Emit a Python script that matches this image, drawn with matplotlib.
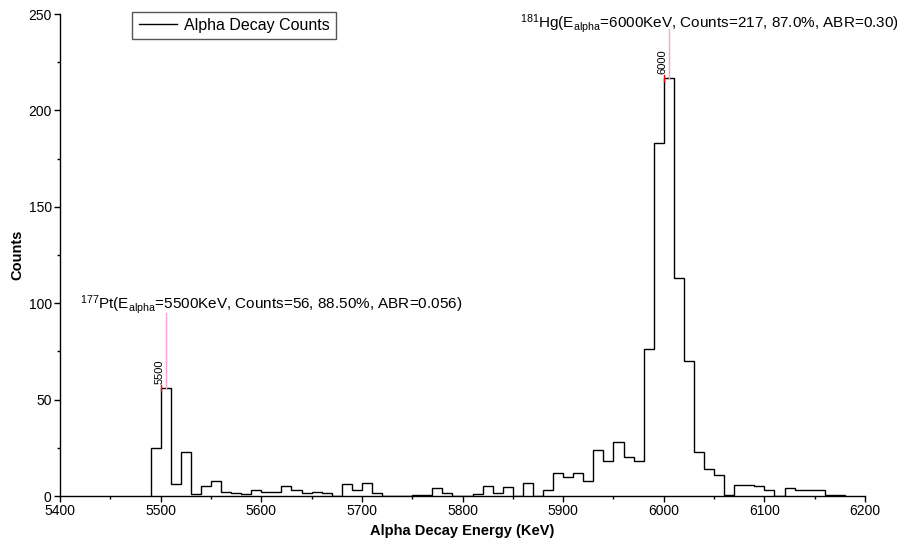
import numpy as np
import matplotlib.pyplot as plt
from matplotlib.ticker import MultipleLocator

plt.rcParams['font.family'] = ['Liberation Sans', 'DejaVu Sans']
plt.rcParams['mathtext.fontset'] = 'custom'
plt.rcParams['mathtext.rm'] = 'Liberation Sans'
plt.rcParams['mathtext.it'] = 'Liberation Sans:italic'
plt.rcParams['mathtext.bf'] = 'Liberation Sans:bold'

# histogram: 10 keV bins starting at 5490 keV
bin_start = 5490
bin_width = 10
counts = [25, 56, 6, 23, 1, 5, 8, 2, 1.5, 1,
          3, 2, 2, 5, 3, 1.5, 2, 1.5, 0, 6,
          3, 7, 1.5, 0, 0, 0, 0.5, 0.5, 4, 1.5,
          0, 0, 1, 5, 1.5, 4.5, 0, 7, 0, 3,
          12, 10, 12, 8, 24, 18, 28, 20, 18, 76,
          183, 217, 113, 70, 23, 14, 11, 0.5, 5.5, 5.5,
          5, 3, 0, 4, 3, 3, 3, 0.5, 0.5]

# labelled peaks
peak_energy = [5500, 6000]
peak_counts = [56, 217]
peak_text = [r'$^{177}$Pt(E$_{\mathrm{alpha}}$=5500KeV, Counts=56, 88.50%, ABR=0.056)',
             r'$^{181}$Hg(E$_{\mathrm{alpha}}$=6000KeV, Counts=217, 87.0%, ABR=0.30)']
text_x = [5420, 5857]
text_y = [97, 243]
line_top = [95, 242]

edges = bin_start + bin_width * np.arange(len(counts) + 1)

fig = plt.figure(figsize=(8.97, 5.43), dpi=100)
ax = fig.add_axes([60/897, 47/543, 805/897, 482/543])

ax.stairs(counts, edges, color='black', lw=1.0, label='Alpha Decay Counts')

for e, c, t, tx, ty, lt in zip(peak_energy, peak_counts, peak_text, text_x, text_y, line_top):
    ax.plot([e + 5, e + 5], [c, lt], color='#f4a6d0', lw=1.0, zorder=1)
    ax.plot([e, e], [c - 1.5, c + 1.5], color='red', lw=1.0)
    ax.text(e - 1, c + 2, str(e), rotation=90, ha='center', va='bottom', fontsize=8)
    ax.text(tx, ty, t, ha='left', va='baseline', fontsize=11)

ax.set_xlim(5400, 6200)
ax.set_ylim(0, 250)
ax.xaxis.set_major_locator(MultipleLocator(100))
ax.xaxis.set_minor_locator(MultipleLocator(50))
ax.yaxis.set_major_locator(MultipleLocator(50))
ax.yaxis.set_minor_locator(MultipleLocator(25))
ax.tick_params(which='major', direction='out', length=4, width=1, labelsize=10, pad=2)
ax.tick_params(which='minor', direction='out', length=2.5, width=1)

for s in ['top', 'right']:
    ax.spines[s].set_visible(False)
for s in ['left', 'bottom']:
    ax.spines[s].set_linewidth(1.0)

ax.set_xlabel('Alpha Decay Energy (KeV)', fontsize=10.5, fontweight='bold', labelpad=4)
ax.set_ylabel('Counts', fontsize=10.5, fontweight='bold', labelpad=3)

leg = ax.legend(loc='upper left', bbox_to_anchor=(0.09, 1.005), fontsize=11.5,
                fancybox=False, framealpha=1, borderpad=0.4, handlelength=2.4,
                handletextpad=0.4, borderaxespad=0)
leg.get_frame().set_edgecolor('#555555')
leg.get_frame().set_linewidth(1.0)

fig.savefig('out.png', dpi=100)
